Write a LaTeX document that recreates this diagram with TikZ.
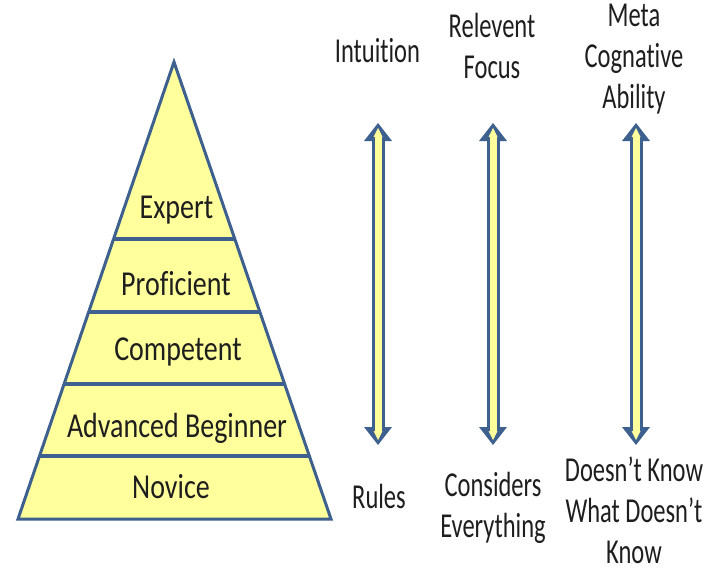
\documentclass[tikz,border=0pt]{standalone}
\usepackage{fontspec}
\newfontfamily\pyrfont[FakeStretch=0.8,Ligatures=NoCommon]{Carlito}
\newfontfamily\sidefont[FakeStretch=0.7,Ligatures=NoCommon]{Carlito}
\usetikzlibrary{arrows.meta}
\definecolor{pyrblue}{RGB}{62,96,142}
\definecolor{pyryellow}{RGB}{255,255,155}
\definecolor{textgray}{RGB}{30,30,30}
\tikzset{
  level/.style={anchor=base,text=textgray,font=\pyrfont\fontsize{35}{41}\selectfont},
  side/.style={anchor=base,align=center,text=textgray,font=\sidefont\fontsize{35}{41}\selectfont},
  divider/.style={draw=pyrblue,line width=4pt},
  arrowout/.style={draw=pyrblue,line width=13pt,{Triangle[width=28pt,length=18pt,line width=0pt]}-{Triangle[width=28pt,length=18pt,line width=0pt]}},
  arrowin/.style={draw=pyryellow,line width=7pt,shorten <=5pt,shorten >=5pt,{Triangle[width=9pt,length=9pt,line width=0pt]}-{Triangle[width=9pt,length=9pt,line width=0pt]}}
}
\begin{document}
\begin{tikzpicture}[x=1pt,y=-1pt]
\useasboundingbox (0,0) rectangle (716,570);

% pyramid
\coordinate (apex) at (174,62);
\coordinate (bl) at (18,519);
\coordinate (br) at (331,519);
\draw[draw=pyrblue,fill=pyryellow,line width=3pt,line join=miter] (apex) -- (br) -- (bl) -- cycle;
\draw[divider] (113.6,239) -- (234.8,239);
\draw[divider] (88.7,312) -- (259.9,312);
\draw[divider] (64.1,384) -- (284.6,384);
\draw[divider] (39.5,456) -- (309.4,456);

\node[level] (expert) at (176.5,218) {Expert};
\node[level] (proficient) at (176,295) {Proficient};
\node[level] (competent) at (178,360) {Competent};
\node[level] (advanced) at (177,437) {Advanced Beginner};
\node[level] (novice) at (171,498) {Novice};

% top labels (base = last line)
\node[side] (intuition) at (377.5,63) {Intuition};
\node[side] (focus) at (492,78) {Relevent\\Focus};
\node[side] (meta) at (634,108) {Meta\\Cognative\\Ability};

% bottom labels
\node[side] (rules) at (379,508) {Rules};
\node[side] (everything) at (493,537) {Considers\\Everything};
\node[side] (dontknow) at (634,563) {Doesn’t Know\\What Doesn’t\\Know};

% arrows
\coordinate (intuitiontop) at (378,123);
\coordinate (rulesbot) at (378,445);
\coordinate (focustop) at (493,123);
\coordinate (everythingbot) at (493,445);
\coordinate (metatop) at (636,123);
\coordinate (dontknowbot) at (636,445);

\draw[arrowout] (intuitiontop) -- (rulesbot);
\draw[arrowin] (intuitiontop) -- (rulesbot);
\draw[arrowout] (focustop) -- (everythingbot);
\draw[arrowin] (focustop) -- (everythingbot);
\draw[arrowout] (metatop) -- (dontknowbot);
\draw[arrowin] (metatop) -- (dontknowbot);

\end{tikzpicture}
\end{document}
